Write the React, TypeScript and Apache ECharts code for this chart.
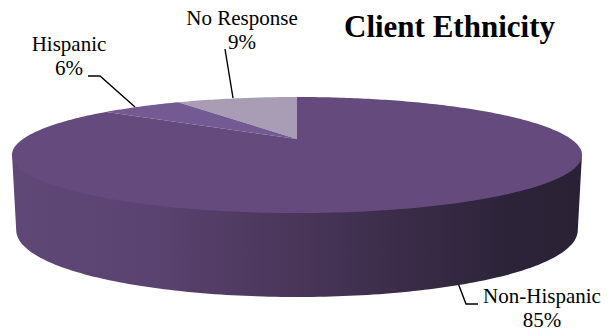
import React, { useEffect, useRef } from "react";
import * as echarts from "echarts";

const categories = ["No Response", "Hispanic", "Non-Hispanic"];
const shares = [9, 6, 85];
const sliceColors = ["#a99db6", "#745a92", "#654b7d"];

// Perspective disc: apex, radii and depth of the tilted pie.
const APEX_X = 297;
const APEX_Y = 139;
const RADIUS_X = 274;
const RADIUS_Y = 53.6;
const TILT = 0.276;
const WALL = 75;

type Pt = [number, number];

// Angle runs anticlockwise from the far edge of the disc.
function project(angle: number, lower = false): Pt {
  const u = -Math.sin(angle);
  const v = Math.cos(angle);
  const w = 1 + TILT * v;
  const x = (RADIUS_X * u) / w;
  const y = APEX_Y - (RADIUS_Y * v) / w;
  if (!lower) return [APEX_X + x, y];
  // The lower rim sits slightly narrower and deeper towards the viewer.
  const depth = WALL * (1 + 0.165 * Math.max(0, -v - TILT));
  return [APEX_X + x * 0.985, y + depth];
}

function rim(a0: number, a1: number, lower = false): Pt[] {
  const n = Math.max(4, Math.ceil(Math.abs(a1 - a0) * 60));
  const pts: Pt[] = [];
  for (let i = 0; i <= n; i++) pts.push(project(a0 + ((a1 - a0) * i) / n, lower));
  return pts;
}

const labelBlocks = [
  { name: 0, x: 242, y: 6 },
  { name: 1, x: 69, y: 32 },
  { name: 2, x: 542, y: 284 },
];
const leaders: Pt[][] = [
  [[225, 49], [233, 98]],
  [[88, 76], [100, 76], [135, 107]],
  [[458, 283], [466, 304], [478, 304]],
];

const FONT = "Liberation Serif";

export default function App() {
  const ref = useRef<HTMLDivElement>(null);
  useEffect(() => {
    const chart = echarts.init(ref.current!, null, { renderer: "svg" });
    const total = shares.reduce((a, b) => a + b, 0);
    let acc = 0;
    const ranges = shares.map((s) => {
      const start = (acc / total) * Math.PI * 2;
      acc += s;
      return [start, (acc / total) * Math.PI * 2];
    });
    const tangent = Math.acos(-TILT);
    chart.setOption({
      animation: false,
      backgroundColor: "#ffffff",
      title: {
        text: "Client Ethnicity",
        left: 339,
        top: 6,
        textStyle: { fontFamily: FONT, fontSize: 31, fontWeight: "bold", color: "#000" },
      },
      series: [
        {
          type: "custom",
          coordinateSystem: "none",
          silent: true,
          data: ranges.map((r, i) => ({ value: [r[0], r[1], i] })),
          renderItem: (_p: unknown, api: any) => {
            const a0 = api.value(0) as number;
            const a1 = api.value(1) as number;
            const i = api.value(2) as number;
            const children: any[] = [];
            // The side wall only shows along the near part of the disc;
            // its upper edge is tucked under the top face to avoid a seam.
            const lo = Math.max(a0, tangent);
            const hi = Math.min(a1, Math.PI * 2 - tangent);
            if (hi > lo) {
              const upper = rim(lo, hi).map(([x, y]) => [x, y - 2] as Pt);
              children.push({
                type: "polygon",
                shape: { points: [...upper, ...rim(hi, lo, true)] },
                style: {
                  fill: new echarts.graphic.LinearGradient(0, 0, 1, 0, [
                    { offset: 0, color: "#604876" },
                    { offset: 0.25, color: "#5a4370" },
                    { offset: 0.5, color: "#493659" },
                    { offset: 0.75, color: "#352943" },
                    { offset: 0.88, color: "#2c2338" },
                    { offset: 1, color: "#2a2135" },
                  ]),
                },
              });
            }
            children.push({
              type: "polygon",
              shape: { points: [[APEX_X, APEX_Y], ...rim(a0, a1)] },
              style: { fill: sliceColors[i] },
            });
            return { type: "group", children };
          },
        },
      ],
      graphic: [
        ...leaders.map((points) => ({
          type: "polyline",
          shape: { points },
          style: { stroke: "#000", lineWidth: 1.4, fill: "none" },
        })),
        ...labelBlocks.map((b) => ({
          type: "text",
          x: b.x,
          y: b.y,
          style: {
            text: `${categories[b.name]}\n${shares[b.name]}%`,
            fontFamily: FONT,
            fontSize: 21,
            fill: "#000",
            align: "center",
            lineHeight: 24,
          },
        })),
      ],
    });
    return () => chart.dispose();
  }, []);
  return <div ref={ref} style={{ width: 616, height: 332, position: "fixed", left: 0, top: 0 }} />;
}
